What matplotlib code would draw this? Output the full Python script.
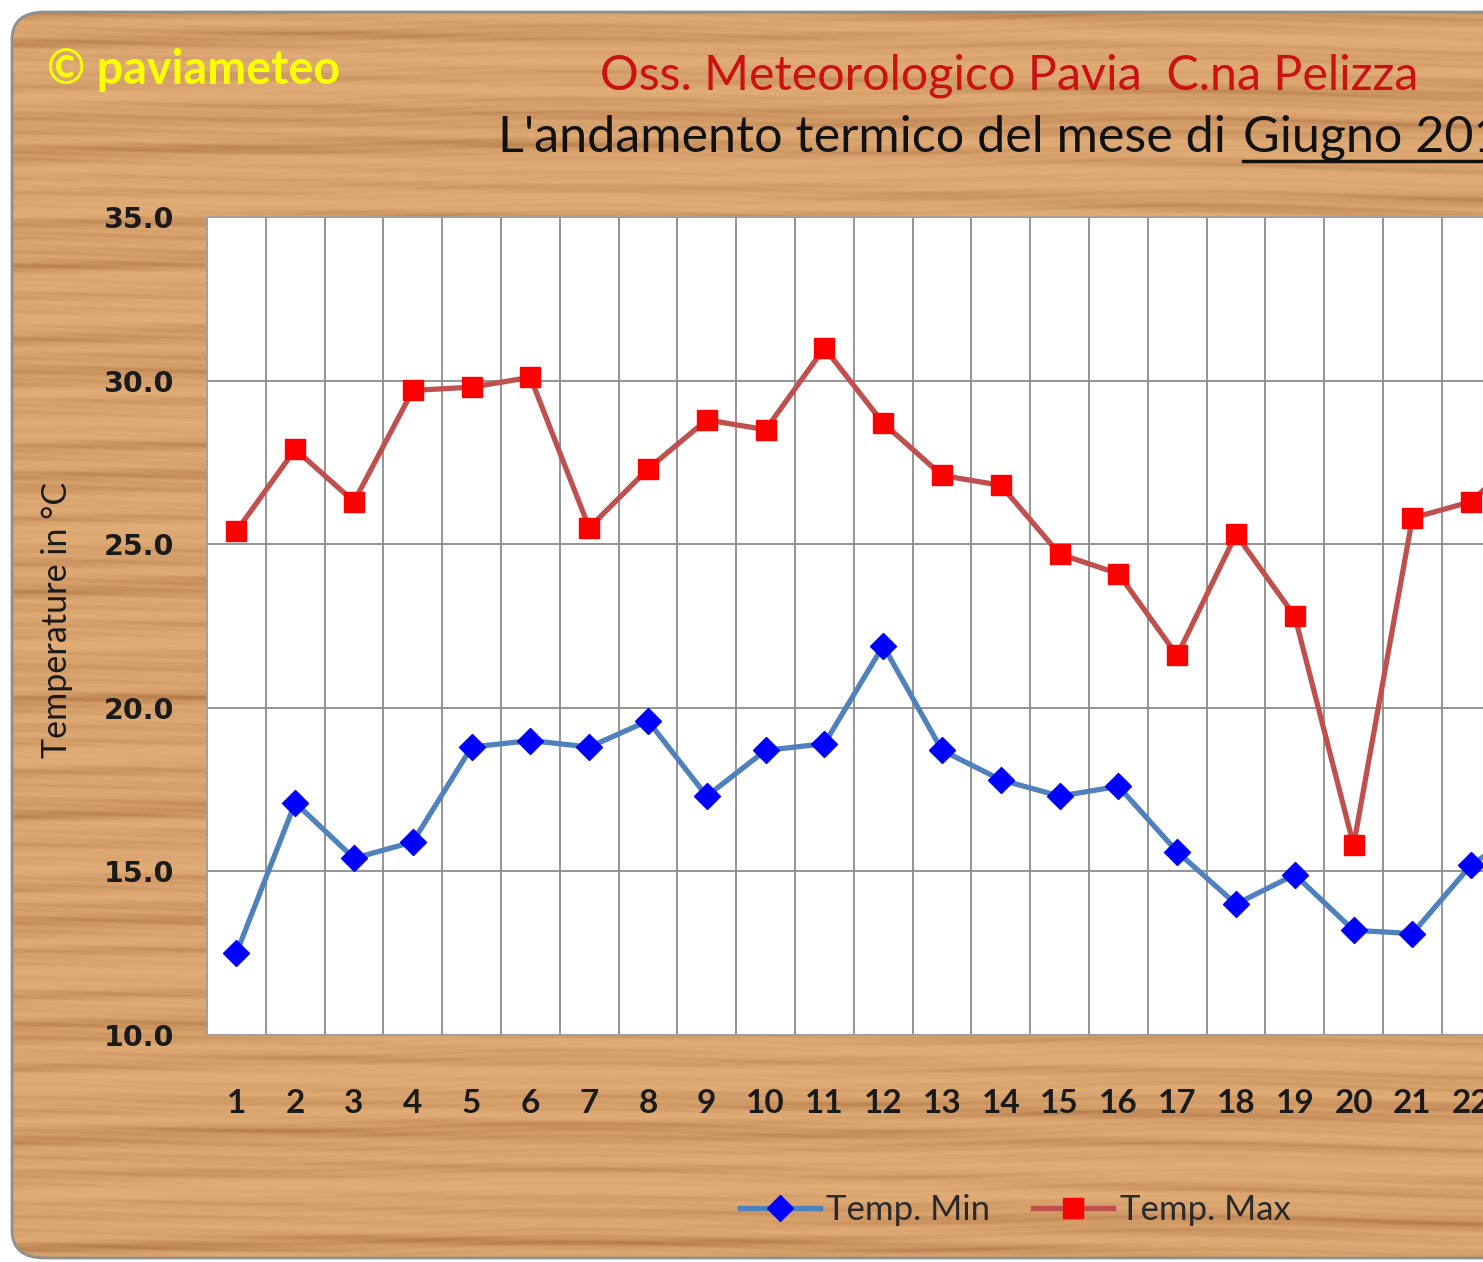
import numpy as np
import matplotlib
matplotlib.use("Agg")
import matplotlib.pyplot as plt
from matplotlib.patches import FancyBboxPatch
from matplotlib.lines import Line2D

# ---- data ----
days = list(range(1, 31))
temp_max = [25.4, 27.9, 26.3, 29.7, 29.8, 30.1, 25.5, 27.3, 28.8, 28.5,
            31.0, 28.7, 27.1, 26.8, 24.7, 24.1, 21.6, 25.3, 22.8, 15.8,
            25.8, 26.3, 28.0]
temp_min = [12.5, 17.1, 15.4, 15.9, 18.8, 19.0, 18.8, 19.6, 17.3, 18.7,
            18.9, 21.9, 18.7, 17.8, 17.3, 17.6, 15.6, 14.0, 14.9, 13.2,
            13.1, 15.2, 16.4]
y_ticks = [10.0, 15.0, 20.0, 25.0, 30.0, 35.0]

W, H = 1483, 1262
fig = plt.figure(figsize=(W / 100, H / 100), dpi=100)
fig.patch.set_facecolor("white")
renderer = fig.canvas.get_renderer()


def fx(px):
    return px / W


def fy(py):
    return 1 - py / H


def fit_width(txt, target_px, vertical=False):
    # scale font size so the text spans target_px
    bb = txt.get_window_extent(renderer)
    cur = bb.height if vertical else bb.width
    txt.set_fontsize(txt.get_fontsize() * target_px / cur)


# ---- wood panel background ----
def wood_texture(h, w):
    yy = np.linspace(0, 1, h)[:, None]
    xx = np.linspace(0, 1, w)[None, :]
    wave = (0.40 * np.sin(yy * 217 + 1.6 * np.sin(xx * 5.0))
            + 0.30 * np.sin(yy * 533 + 2.5 * np.sin(xx * 9.0 + 1.0))
            + 0.30 * np.sin(yy * 71 + 2.0 * xx)
            + 0.25 * np.sin(yy * 1190 + 4.0 * np.sin(xx * 15.0 + 2.0))
            + 0.20 * np.sin(yy * 347 + 6.0 * np.sin(xx * 3.0 + 0.5)))
    t = (wave - wave.min()) / (wave.max() - wave.min())
    t = t ** 2.2
    light = np.array([226, 174, 120]) / 255
    dark = np.array([178, 120, 70]) / 255
    return light[None, None, :] * (1 - t[..., None]) + dark[None, None, :] * t[..., None]


bg_ax = fig.add_axes([0, 0, 1, 1], zorder=0)
bg_ax.set_axis_off()
img = bg_ax.imshow(wood_texture(600, 300), extent=[0, 1, 0, 1], aspect="auto",
                   interpolation="bilinear", transform=fig.transFigure)
panel = FancyBboxPatch((fx(12), fy(1258)), 1.2, fy(12) - fy(1258),
                       boxstyle="round,pad=0,rounding_size=0.022",
                       transform=fig.transFigure, facecolor="none",
                       edgecolor="#8f8f8f", linewidth=2, zorder=1)
bg_ax.add_patch(panel)
img.set_clip_path(panel)

# ---- plot area (chart is cropped on the right side) ----
left, right, top, bottom = 207, 1971, 217, 1035
ax = fig.add_axes([fx(left), fy(bottom), fx(right) - fx(left), fy(top) - fy(bottom)], zorder=2)
ax.set_facecolor("white")

x_min = np.arange(1, len(temp_min) + 1)
x_max = np.arange(1, len(temp_max) + 1)
ax.plot(x_min, temp_min, color="#4f81bd", lw=3.8, marker="D", ms=13.5,
        mfc="#0000ff", mec="#0000ff", label="Temp. Min", zorder=4, clip_on=False)
ax.plot(x_max, temp_max, color="#c0504d", lw=3.8, marker="s", ms=14,
        mfc="#ff0000", mec="#ff0000", label="Temp. Max", zorder=4, clip_on=False)

ax.set_xlim(0.5, len(days) + 0.5)
ax.set_ylim(10, 35)
ax.set_yticks(y_ticks)
ax.set_yticklabels([f"{v:.1f}" for v in y_ticks])
ax.set_xticks(days)
ax.set_xticklabels([str(d) for d in days])
ax.set_xticks(np.arange(0.5, len(days) + 1, 1), minor=True)
ax.tick_params(axis="both", which="both", length=0)
ax.tick_params(axis="y", pad=24, labelsize=20.5, labelcolor="#1a1a1a")
ax.tick_params(axis="x", pad=39, labelsize=24, labelcolor="#1a1a1a")
for lab in ax.get_yticklabels():
    lab.set_fontweight("bold")
for lab in ax.get_xticklabels():
    lab.set_fontweight("bold")
    lab.set_family("Lato")
ax.grid(axis="y", which="major", color="#8c8c8c", lw=1.3)
ax.grid(axis="x", which="minor", color="#8c8c8c", lw=1.3)
ax.set_axisbelow(True)
for s in ax.spines.values():
    s.set_color("#a0a0a0")
    s.set_linewidth(1.2)

# ---- texts ----
ylab = fig.text(fx(57), fy(620), "Temperature in °C", family="Lato", fontsize=20,
                color="#1a1a1a", rotation=90, ha="center", va="center", zorder=3)
fit_width(ylab, 277, vertical=True)

copy_txt = fig.text(fx(47), fy(70), "© paviameteo", family="Lato", fontweight="bold",
                    fontsize=30, color="#ffff00", ha="left", va="center", zorder=3)
fit_width(copy_txt, 293)

t1 = fig.text(fx(1009), fy(76), "Oss. Meteorologico Pavia  C.na Pelizza", family="Lato",
              fontsize=34, color="#cc1111", ha="center", va="center", zorder=3)
fit_width(t1, 822)

t2 = fig.text(fx(498), fy(138), "L'andamento termico del mese di", family="Lato",
              fontsize=34, color="#111111", ha="left", va="center", zorder=3)
fit_width(t2, 730)
fig.text(fx(1243), fy(138), "Giugno 2013", family="Lato",
         fontsize=t2.get_fontsize(), color="#111111", ha="left", va="center", zorder=3)
fig.add_artist(Line2D([fx(1243), fx(1600)], [fy(161), fy(161)], color="#111111",
                      lw=2.5, transform=fig.transFigure, zorder=3))

fig.legend(loc="center", bbox_to_anchor=(fx(1015), fy(1210)), ncol=2, frameon=False,
           prop={"family": "Lato", "size": 25}, handlelength=2.3, handletextpad=0.18,
           columnspacing=1.25, labelcolor="#2a2a2a")

fig.savefig("out.png", dpi=100)
